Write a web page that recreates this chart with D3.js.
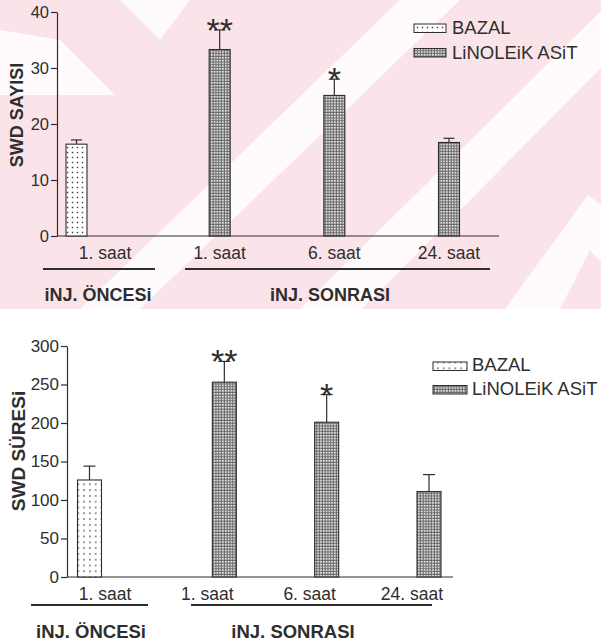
<!DOCTYPE html>
<html>
<head>
<meta charset="utf-8">
<script src="https://cdn.jsdelivr.net/npm/d3@7"></script>
<style>
  body { margin: 0; background: #ffffff; }
  svg { display: block; }
  text { font-family: "Liberation Sans", Arial, Helvetica, sans-serif; fill: #2e2e2e; }
</style>
</head>
<body>
<svg id="chart" width="601" height="641"></svg>
<script>
// ---- data -----------------------------------------------------------
const categoryKeys   = ["pre1", "post1", "post6", "post24"];
const categoryLabels = ["1. saat", "1. saat", "6. saat", "24. saat"];
const groupLabels    = ["iNJ. ÖNCESi", "iNJ. SONRASI"];
const seriesNames    = ["BAZAL", "LiNOLEiK ASiT"];
const barSeries      = [0, 1, 1, 1];          // which series each bar belongs to
const stars          = ["", "**", "*", ""];   // significance marks

// SWD count
const countMeans  = [16.4, 33.3, 25.1, 16.7];
const countErrors = [0.75, 3.5, 2.9, 0.75];
const countTicks  = [0, 10, 20, 30, 40];

// SWD duration
const durationMeans  = [126, 253, 201, 111];
const durationErrors = [18, 27, 36, 22];
const durationTicks  = [0, 50, 100, 150, 200, 250, 300];

// ---- layout ----------------------------------------------------------
const panels = [
  {
    title: "SWD SAYISI", titleSize: 18, titleX: 23, titleY: 115,
    means: countMeans, errors: countErrors, ticks: countTicks, yMax: 40,
    yRange: [236, 12], axisX: 57, baseEnd: 499, xRange: [105, 449],
    barW: 21, offsets: [-28.5, 0], capW: 11, tickFont: 16.5,
    catFont: 17.5, catY: 259,
    groupLines: [[43, 155], [185, 490]], groupLineY: 269,
    groupText: [98, 330], groupTextY: 301, groupFont: 18,
    legendX: 414, legendTextX: 452, legendBoxW: 32, legendRows: [24, 48.5],
    legendBase: [33.5, 59], dotStep: 5
  },
  {
    title: "SWD SÜRESi", titleSize: 19, titleX: 24.5, titleY: 451,
    means: durationMeans, errors: durationErrors, ticks: durationTicks, yMax: 300,
    yRange: [577, 346], axisX: 67, baseEnd: 453, xRange: [105, 412],
    barW: 24, offsets: [-15.5, 17], capW: 12, tickFont: 17,
    catFont: 17.5, catY: 600,
    groupLines: [[31, 148], [191, 432]], groupLineY: 605,
    groupText: [91, 293], groupTextY: 638, groupFont: 18.5,
    legendX: 433, legendTextX: 472, legendBoxW: 34, legendRows: [362, 385.5],
    legendBase: [371, 395], dotStep: 5.8
  }
];

const ink = "#2e2e2e";
const svg = d3.select("#chart");

// ---- background print pattern behind the upper panel -------------------
const bg = svg.append("g");
bg.append("rect").attr("x", 0).attr("y", 0).attr("width", 601).attr("height", 309)
  .attr("fill", "#fbe4e9");
const whiteBands = [
  [[80, 309], [140, 309], [460, 0], [400, 0]],
  [[300, 309], [362, 309], [601, 68], [601, 8], [612, 0]],
  [[120, 0], [190, 0], [160, 40]],
  [[0, 30], [0, 95], [115, 95], [60, 40]],
  [[505, 309], [560, 309], [590, 250], [601, 262], [601, 205], [588, 195]]
];
bg.selectAll("polygon").data(whiteBands).join("polygon")
  .attr("points", d => d.map(p => p.join(",")).join(" "))
  .attr("fill", "#ffffff").attr("opacity", 0.85);

// ---- fill patterns -----------------------------------------------------
const defs = svg.append("defs");
panels.forEach((p, i) => {
  const s = p.dotStep;
  const sparse = defs.append("pattern").attr("id", "sparse" + i)
    .attr("patternUnits", "userSpaceOnUse").attr("width", s).attr("height", s);
  sparse.append("rect").attr("width", s).attr("height", s).attr("fill", "#ffffff");
  sparse.append("rect").attr("x", s / 2 - 0.7).attr("y", s / 2 - 0.7)
    .attr("width", 1.4).attr("height", 1.4).attr("fill", "#3a3a3a");
});
const dense = defs.append("pattern").attr("id", "dense")
  .attr("patternUnits", "userSpaceOnUse").attr("width", 2.8).attr("height", 2.8);
dense.append("rect").attr("width", 2.8).attr("height", 2.8).attr("fill", "#666666");
dense.append("rect").attr("x", 0.9).attr("y", 0.9).attr("width", 1.6).attr("height", 1.6)
  .attr("fill", "#ffffff");

// ---- panels --------------------------------------------------------------
panels.forEach((p, pi) => {
  const g = svg.append("g");
  const y = d3.scaleLinear().domain([0, p.yMax]).range(p.yRange);
  const x = d3.scalePoint().domain(categoryKeys).range(p.xRange);
  const fills = ["url(#sparse" + pi + ")", "url(#dense)"];

  // y axis
  const axis = g.append("g").attr("transform", `translate(${p.axisX},0)`)
    .call(d3.axisLeft(y).tickValues(p.ticks).tickSize(6).tickSizeOuter(0).tickPadding(2));
  axis.select(".domain").attr("stroke", ink).attr("stroke-width", 1.2);
  axis.selectAll(".tick line").attr("stroke", ink).attr("stroke-width", 1.2);
  axis.selectAll(".tick text").attr("font-size", p.tickFont)
    .attr("font-family", "Liberation Sans, Arial, sans-serif").attr("fill", "#2e2e2e");

  // baseline
  g.append("line").attr("x1", p.axisX).attr("x2", p.baseEnd)
    .attr("y1", y(0)).attr("y2", y(0)).attr("stroke", ink).attr("stroke-width", 1.2);

  const bars = categoryKeys.map((k, i) => ({
    key: k, mean: p.means[i], err: p.errors[i], series: barSeries[i], star: stars[i],
    cx: x(k) + p.offsets[barSeries[i]]
  }));

  // error whiskers (upper only)
  g.selectAll(".whisker").data(bars).join("line").attr("class", "whisker")
    .attr("x1", d => d.cx).attr("x2", d => d.cx)
    .attr("y1", d => y(d.mean)).attr("y2", d => y(d.mean + d.err))
    .attr("stroke", ink).attr("stroke-width", 1.2);
  g.selectAll(".cap").data(bars).join("line").attr("class", "cap")
    .attr("x1", d => d.cx - p.capW / 2).attr("x2", d => d.cx + p.capW / 2)
    .attr("y1", d => y(d.mean + d.err)).attr("y2", d => y(d.mean + d.err))
    .attr("stroke", ink).attr("stroke-width", 1.2);

  // bars
  g.selectAll(".bar").data(bars).join("rect").attr("class", "bar")
    .attr("x", d => d.cx - p.barW / 2).attr("width", p.barW)
    .attr("y", d => y(d.mean)).attr("height", d => y(0) - y(d.mean))
    .attr("fill", d => fills[d.series]).attr("stroke", ink).attr("stroke-width", 1.1);

  // significance stars
  g.selectAll(".star").data(bars.filter(d => d.star)).join("text").attr("class", "star")
    .attr("x", d => d.cx).attr("y", d => y(d.mean + d.err) + 12)
    .attr("text-anchor", "middle").attr("font-size", 34)
    .text(d => d.star);

  // category labels
  g.selectAll(".cat").data(categoryKeys).join("text").attr("class", "cat")
    .attr("x", k => x(k)).attr("y", p.catY).attr("text-anchor", "middle")
    .attr("font-size", p.catFont)
    .text((k, i) => categoryLabels[i]);

  // group brackets
  g.selectAll(".gline").data(p.groupLines).join("line").attr("class", "gline")
    .attr("x1", d => d[0]).attr("x2", d => d[1])
    .attr("y1", p.groupLineY).attr("y2", p.groupLineY)
    .attr("stroke", ink).attr("stroke-width", 2);
  g.selectAll(".gtext").data(groupLabels).join("text").attr("class", "gtext")
    .attr("x", (d, i) => p.groupText[i]).attr("y", p.groupTextY)
    .attr("text-anchor", "middle").attr("font-size", p.groupFont).attr("font-weight", "bold")
    .text(d => d);

  // y title
  g.append("text").attr("transform", `translate(${p.titleX},${p.titleY}) rotate(-90)`)
    .attr("text-anchor", "middle").attr("font-size", p.titleSize).attr("font-weight", "bold")
    .text(p.title);

  // legend
  const lg = g.append("g");
  seriesNames.forEach((name, si) => {
    lg.append("rect").attr("x", p.legendX).attr("y", p.legendRows[si])
      .attr("width", p.legendBoxW).attr("height", 8.5)
      .attr("fill", fills[si]).attr("stroke", ink).attr("stroke-width", 1);
    lg.append("text").attr("x", p.legendTextX).attr("y", p.legendBase[si])
      .attr("font-size", 18.5).text(name);
  });
});
</script>
</body>
</html>
